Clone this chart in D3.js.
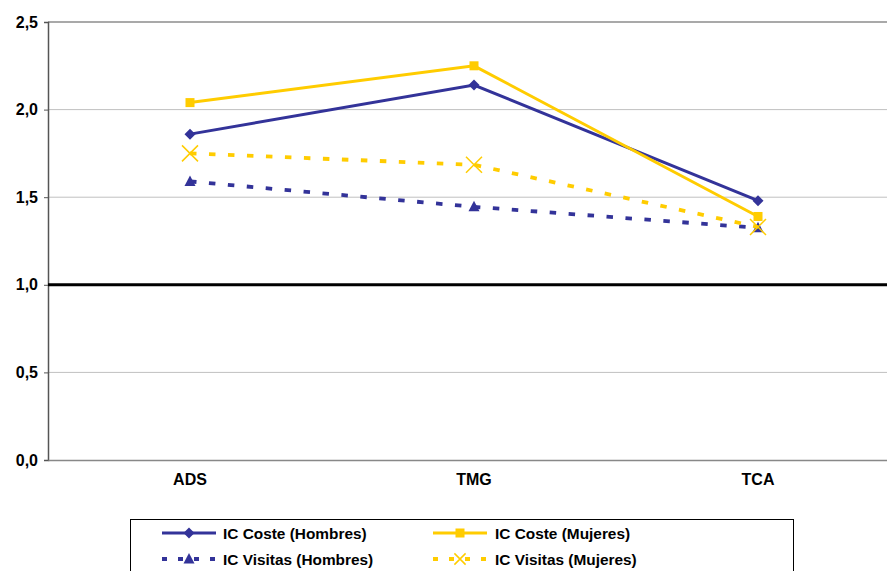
<!DOCTYPE html>
<html>
<head>
<meta charset="utf-8">
<script src="https://cdn.jsdelivr.net/npm/d3@7"></script>
<style>
  html, body { margin: 0; padding: 0; background: #fff; }
  svg { display: block; font-family: "Liberation Sans", Arial, sans-serif; }
</style>
</head>
<body>
<svg id="chart" width="887" height="571"></svg>
<script>
const categories = ["ADS", "TMG", "TCA"];
const costeHombres = [1.86, 2.14, 1.48];
const costeMujeres = [2.04, 2.25, 1.39];
const visitasHombres = [1.59, 1.445, 1.325];
const visitasMujeres = [1.75, 1.685, 1.33];
const yTicks = [0, 0.5, 1.0, 1.5, 2.0, 2.5];
const seriesNames = ["IC Coste (Hombres)", "IC Coste (Mujeres)", "IC Visitas (Hombres)", "IC Visitas (Mujeres)"];

const NAVY = "#333399", YELLOW = "#FFCC00";
const series = [
  { name: seriesNames[0], values: costeHombres, color: NAVY, dash: null, marker: "diamond" },
  { name: seriesNames[1], values: costeMujeres, color: YELLOW, dash: null, marker: "square" },
  { name: seriesNames[2], values: visitasHombres, color: NAVY, dash: "6.5,12.5", marker: "triangle" },
  { name: seriesNames[3], values: visitasMujeres, color: YELLOW, dash: "6.5,12.5", marker: "x" }
];

const svg = d3.select("#chart");
const plot = { left: 48, right: 900, top: 22, bottom: 460 };

const x = d3.scaleBand().domain(categories).range([plot.left, plot.right]);
const y = d3.scaleLinear().domain([0, 2.5]).range([plot.bottom, plot.top]);

// gridlines
svg.append("g").selectAll("line").data(yTicks.filter(t => t !== 0 && t !== 1)).join("line")
  .attr("x1", plot.left).attr("x2", 887)
  .attr("y1", d => y(d)).attr("y2", d => y(d))
  .attr("stroke", d => d === 2.5 ? "#8c8c8c" : "#c0c0c0").attr("stroke-width", d => d === 2.5 ? 1.5 : 1);

// y axis
const yAxis = d3.axisLeft(y).tickValues(yTicks).tickSize(4).tickPadding(6)
  .tickFormat(d => d3.format(".1f")(d).replace(".", ","));
const gy = svg.append("g").attr("transform", `translate(${plot.left},0)`).call(yAxis);
gy.select(".domain").attr("stroke", "#555").attr("stroke-width", 1.5);
gy.selectAll(".tick line").attr("stroke", "#555");
gy.selectAll(".tick text").attr("font-size", 16).attr("font-weight", "bold").attr("fill", "#000")
  .attr("font-family", "Liberation Sans, Arial, sans-serif").attr("dy", "0.32em");

// x axis
const gx = svg.append("g").attr("transform", `translate(0,${plot.bottom})`)
  .call(d3.axisBottom(x).tickSize(0).tickPadding(14));
gx.select(".domain").attr("stroke", "#888").attr("stroke-width", 1.5);
gx.selectAll(".tick text").attr("font-size", 16).attr("font-weight", "bold").attr("fill", "#000")
  .attr("font-family", "Liberation Sans, Arial, sans-serif");

// reference line at 1.0
svg.append("line").attr("x1", plot.left).attr("x2", 887)
  .attr("y1", y(1)).attr("y2", y(1)).attr("stroke", "#000").attr("stroke-width", 3);

const cx = d => x(d) + x.bandwidth() / 2;

function drawMarker(g, type, color, px, py, sz) {
  const s = sz || 1;
  if (type === "diamond") {
    g.append("path").attr("d", `M${px},${py-5.5*s}L${px+5.5*s},${py}L${px},${py+5.5*s}L${px-5.5*s},${py}Z`).attr("fill", color);
  } else if (type === "square") {
    g.append("rect").attr("x", px-4.5*s).attr("y", py-4.5*s).attr("width", 9*s).attr("height", 9*s).attr("fill", color);
  } else if (type === "triangle") {
    g.append("path").attr("d", `M${px},${py-6*s}L${px+5.5*s},${py+4.5*s}L${px-5.5*s},${py+4.5*s}Z`).attr("fill", color);
  } else if (type === "x") {
    const r = 8 * s;
    g.append("path").attr("d", `M${px-r},${py-r}L${px+r},${py+r}M${px+r},${py-r}L${px-r},${py+r}`)
      .attr("stroke", color).attr("stroke-width", 1.5).attr("fill", "none");
  }
}

const line = d3.line().x((d, i) => cx(categories[i])).y(d => y(d));
const order = [2, 3, 0, 1];
order.forEach(k => {
  const s = series[k];
  const g = svg.append("g");
  g.append("path").datum(s.values).attr("d", line).attr("fill", "none")
    .attr("stroke", s.color).attr("stroke-width", s.dash ? 3.8 : 3)
    .attr("stroke-dasharray", s.dash);
  s.values.forEach((v, i) => drawMarker(g, s.marker, s.color, cx(categories[i]), y(v)));
});

// legend
const lg = svg.append("g");
lg.append("rect").attr("x", 130.5).attr("y", 519.5).attr("width", 663).attr("height", 70)
  .attr("fill", "#fff").attr("stroke", "#000").attr("stroke-width", 1);
const legPos = [
  { lx: 162, tx: 223, y: 533 },
  { lx: 433, tx: 495, y: 533 },
  { lx: 162, tx: 223, y: 559 },
  { lx: 433, tx: 495, y: 559 }
];
series.forEach((s, k) => {
  const p = legPos[k];
  const g = lg.append("g");
  g.append("line").attr("x1", p.lx).attr("x2", p.lx + 54).attr("y1", p.y).attr("y2", p.y)
    .attr("stroke", s.color).attr("stroke-width", s.dash ? 3.8 : 3).attr("stroke-dasharray", s.dash ? "5,11" : null);
  drawMarker(g, s.marker, s.color, p.lx + 27, p.y, s.marker === "x" ? 0.7 : 1);
  g.append("text").attr("x", p.tx).attr("y", p.y).attr("dy", "0.36em")
    .attr("font-size", 15.4).attr("font-weight", "bold").text(s.name);
});
</script>
</body>
</html>
